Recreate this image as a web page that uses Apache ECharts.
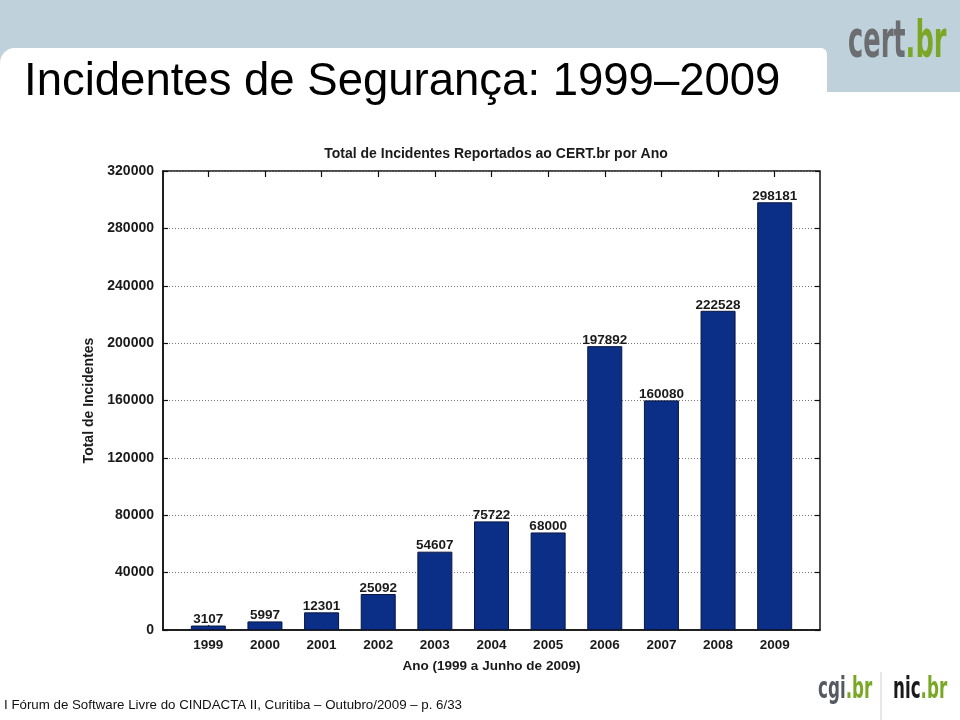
<!DOCTYPE html>
<html>
<head>
<meta charset="utf-8">
<script src="https://cdn.jsdelivr.net/npm/echarts@6/dist/echarts.min.js"></script>
<style>
html,body{margin:0;padding:0;background:#fff;}
#chart{width:960px;height:720px;}
</style>
</head>
<body>
<div id="chart"></div>
<script>
const years = ['1999','2000','2001','2002','2003','2004','2005','2006','2007','2008','2009'];
const incidents = [3107, 5997, 12301, 25092, 54607, 75722, 68000, 197892, 160080, 222528, 298181];
const yTicks = [0, 40000, 80000, 120000, 160000, 200000, 240000, 280000, 320000];

const idx = years.map((_, i) => i);
const barData = incidents.map((v, i) => [i, v]);
const FONT = 'Liberation Sans, Arial, sans-serif';
const W = 'bold';

const chart = echarts.init(document.getElementById('chart'), null, {renderer: 'canvas'});
const option = {
  backgroundColor: '#ffffff',
  animation: false,
  textStyle: {fontFamily: FONT},
  title: {
    text: 'Total de Incidentes Reportados ao CERT.br por Ano',
    left: 491, top: 142, textAlign: 'center',
    textStyle: {fontSize: 14, fontWeight: W, color: '#1a1a1a', fontFamily: FONT}
  },
  grid: {
    left: 163, right: 140, top: 171, bottom: 90,
    show: true, borderColor: '#111', borderWidth: 1.5, backgroundColor: 'transparent'
  },
  xAxis: [{
    type: 'value', min: -0.8, max: 10.8, position: 'bottom',
    splitLine: {show: false},
    axisLine: {show: true, onZero: false, lineStyle: {color: '#111', width: 1.5}},
    axisTick: {show: true, inside: true, length: 5, customValues: idx, lineStyle: {color: '#111', width: 1.2}},
    axisLabel: {customValues: idx, formatter: v => years[Math.round(v)], margin: 8, fontSize: 13.5, fontWeight: W, color: '#1a1a1a', fontFamily: FONT},
    name: 'Ano (1999 a Junho de 2009)', nameLocation: 'middle', nameGap: 29,
    nameTextStyle: {fontSize: 13.5, fontWeight: W, color: '#1a1a1a', fontFamily: FONT}
  }, {
    type: 'value', min: -0.8, max: 10.8, position: 'top',
    splitLine: {show: false},
    axisLine: {show: false, onZero: false},
    axisTick: {show: true, inside: true, length: 6, customValues: idx, lineStyle: {color: '#111', width: 1.2}},
    axisLabel: {show: false}
  }],
  yAxis: [{
    type: 'value', min: 0, max: 320000, interval: 40000, position: 'left',
    axisLine: {show: true, onZero: false, lineStyle: {color: '#111', width: 1.5}},
    axisTick: {show: true, inside: true, length: 5, lineStyle: {color: '#111', width: 1.2}},
    axisLabel: {margin: 9, fontSize: 14, fontWeight: W, color: '#1a1a1a', fontFamily: FONT, formatter: v => String(v)},
    splitLine: {show: true, lineStyle: {color: '#777', type: [1, 2], width: 1}},
    name: 'Total de Incidentes', nameLocation: 'middle', nameGap: 67, nameRotate: 90,
    nameTextStyle: {fontSize: 14, fontWeight: W, color: '#1a1a1a', fontFamily: FONT}
  }, {
    type: 'value', min: 0, max: 320000, interval: 40000, position: 'right',
    axisLine: {show: false, onZero: false},
    axisTick: {show: true, inside: true, length: 5, lineStyle: {color: '#111', width: 1.2}},
    axisLabel: {show: false},
    splitLine: {show: false}
  }],
  series: [{
    type: 'bar',
    xAxisIndex: 0, yAxisIndex: 0,
    data: barData,
    barWidth: 35,
    itemStyle: {color: '#0b2f87', borderColor: '#0a1640', borderWidth: 1},
    label: {show: true, position: 'top', distance: -1, fontSize: 13.5, fontWeight: W, color: '#1a1a1a', fontFamily: FONT,
      formatter: p => String(p.value[1])}
  }],
  graphic: [
    {type: 'rect', z: -10, shape: {x: 0, y: 0, width: 960, height: 92}, style: {fill: '#bfd2dc'}, silent: true},
    {type: 'rect', z: -9, shape: {x: 0, y: 48, width: 827, height: 60, r: [15, 6, 0, 0]}, style: {fill: '#ffffff'}, silent: true},
    {type: 'rect', z: -9, shape: {x: 0, y: 92, width: 960, height: 16}, style: {fill: '#ffffff'}, silent: true},
    {type: 'text', z: 10, left: 24, top: 59,
      style: {text: 'Incidentes de Segurança: 1999–2009', fontSize: 45.5, fill: '#000', fontFamily: FONT}},
    {type: 'text', z: 10, x: 848, y: 18, scaleX: 0.56,
      style: {text: '{a|cert}{b|.br}',
        rich: {a: {fontSize: 51, fill: '#6b6d70', fontWeight: 'bold', fontFamily: 'DejaVu Sans Condensed'},
               b: {fontSize: 51, fill: '#7aa826', fontWeight: 'bold', fontFamily: 'DejaVu Sans Condensed'}}}},
    {type: 'text', z: 10, left: 4, top: 699,
      style: {text: 'I Fórum de Software Livre do CINDACTA II, Curitiba – Outubro/2009 – p. 6/33', fontSize: 13.3, fill: '#111', fontFamily: FONT}},
    {type: 'text', z: 10, x: 818, y: 674, scaleX: 0.6,
      style: {text: '{a|cgi}{b|.br}',
        rich: {a: {fontSize: 31, fill: '#555a60', fontWeight: 'bold', fontFamily: 'DejaVu Sans Condensed'},
               b: {fontSize: 31, fill: '#7aa826', fontWeight: 'bold', fontFamily: 'DejaVu Sans Condensed'}}}},
    {type: 'line', z: 10, shape: {x1: 881, y1: 672, x2: 881, y2: 720}, style: {stroke: '#cfcfcf', lineWidth: 1}},
    {type: 'text', z: 10, x: 893, y: 674, scaleX: 0.6,
      style: {text: '{a|nic}{b|.br}',
        rich: {a: {fontSize: 31, fill: '#1a1a1a', fontWeight: 'bold', fontFamily: 'DejaVu Sans Condensed'},
               b: {fontSize: 31, fill: '#7aa826', fontWeight: 'bold', fontFamily: 'DejaVu Sans Condensed'}}}}
  ]
};
chart.setOption(option);
</script>
</body>
</html>
